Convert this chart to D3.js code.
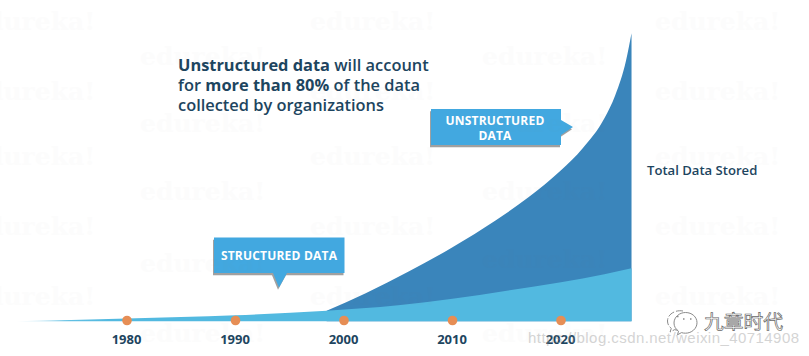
<!DOCTYPE html>
<html><head><meta charset="utf-8">
<script src="https://cdn.jsdelivr.net/npm/d3@7/dist/d3.min.js"></script>
<style>html,body{margin:0;padding:0;background:#fff}svg{display:block}text{font-family:"Open Sans",sans-serif}</style>
</head><body><div id="c"></div>
<script>
const tickYears = [1980, 1990, 2000, 2010, 2020];
const totalYears = [1998.4, 2002, 2006, 2010, 2014, 2017, 2020, 2022, 2024, 2025, 2026, 2026.5];
const totalValues = [10.5, 28, 50, 74, 101, 124, 151, 173, 203, 226, 261, 288];
const structuredYears = [1969.7, 1980, 1990, 1998.4, 2005, 2010, 2015, 2020, 2024, 2026.5];
const structuredValues = [0, 2.8, 6, 10.5, 16, 22.5, 30.5, 39, 47, 53];
const headlineLines = [
  [["Unstructured data", 700], [" will account", 600]],
  [["for ", 600], ["more than 80%", 700], [" of the data", 600]],
  [["collected by organizations", 600]]
];
const watermarkColumns = [[-30, [20, 90, 155, 225, 295]], [140, [55, 122, 190, 262, 332]], [310, [20, 90, 155, 225, 295]], [482, [55, 122, 190, 258, 332]], [655, [20, 90, 155, 225, 295]]];

const W = 809, H = 356;
const svg = d3.select("#c").append("svg").attr("width", W).attr("height", H);
const x = d3.scaleLinear().domain([1980, 2020]).range([127, 561]);
const y = d3.scaleLinear().domain([0, 288]).range([321.3, 33.3]);
const area = d3.area().x(d => x(d[0])).y0(y(0)).y1(d => y(d[1])).curve(d3.curveMonotoneX);

const grad = svg.append("defs").append("linearGradient").attr("id", "fade");
grad.append("stop").attr("offset", "0").attr("stop-color", "#52b9e0").attr("stop-opacity", 0.05);
grad.append("stop").attr("offset", "0.08").attr("stop-color", "#52b9e0").attr("stop-opacity", 0.9);
grad.append("stop").attr("offset", "0.15").attr("stop-color", "#52b9e0");
grad.append("stop").attr("offset", "1").attr("stop-color", "#52b9e0");

svg.append("path").attr("d", area(d3.zip(totalYears, totalValues))).attr("fill", "#3a85bb");
svg.append("path").attr("d", area(d3.zip(structuredYears, structuredValues))).attr("fill", "url(#fade)");

// ticks
svg.selectAll("circle.tick").data(tickYears).join("circle").attr("class", "tick")
  .attr("cx", d => x(d)).attr("cy", 320.5).attr("r", 4.8).attr("fill", "#e68e55");
svg.selectAll("text.year").data(tickYears).join("text").attr("class", "year")
  .attr("x", d => x(d) - 0.5).attr("y", 344).attr("text-anchor", "middle")
  .attr("font-size", 13).attr("font-weight", 700).attr("fill", "#1d4560").text(d => d);

// headline
headlineLines.forEach((line, i) => {
  const t = svg.append("text").attr("x", 178).attr("y", 71 + i * 19.8).attr("fill", "#1d4560").attr("font-size", 16.4);
  line.forEach(s => t.append("tspan").attr("font-weight", s[1]).style("white-space", "pre").text(s[0]));
});

// callouts
function callout(path, lines, cx, ys) {
  svg.append("path").attr("d", path).attr("fill", "#8f8f8f").attr("transform", "translate(-1,2.2)").attr("opacity", 0.85);
  svg.append("path").attr("d", path).attr("fill", "#42a8e0");
  lines.forEach((l, i) => svg.append("text").attr("x", cx).attr("y", ys[i]).attr("text-anchor", "middle")
    .attr("font-size", 12).attr("font-weight", 700).attr("fill", "#fff").style("letter-spacing", "0.2px").text(l));
}
callout("M214,237.5H344.5V273H287L279,287.5L273,273H214Z", ["STRUCTURED DATA"], 279, [259.5]);
callout("M431,109H561V120L573,127L561,135V145H431Z", ["UNSTRUCTURED", "DATA"], 495, [125, 140]);

svg.append("text").attr("x", 647).attr("y", 174.5).attr("font-size", 13.1).attr("font-weight", 600).attr("fill", "#1d4560").text("Total Data Stored");

// watermarks
watermarkColumns.forEach(c => c[1].forEach(yy => {
  svg.append("text").attr("x", c[0]).attr("y", yy + 10)
    .style("font-family", "'DejaVu Serif',serif").attr("font-size", 25).attr("font-weight", 700)
    .attr("fill", "#808080").attr("opacity", 0.018).text("edureka!");
}));

// wechat mark
const g = svg.append("g").attr("fill", "none").attr("stroke", "#8a8a8a").attr("stroke-width", 1);
g.append("path").attr("d", "M683,311c-8,-1.5-15.5,3.5-15.5,10c0,3,1.4,5.5,3.8,7.4l-1.2,3.6l4.6-2.4c1,.4,2,.6,3,.7").attr("stroke-dasharray", "7 2");
g.append("path").attr("d", "M674,323c0-6,5.5-10.5,11.5-10.5c6.5,0,11.5,4.5,11.5,10.2c0,6-5.5,10.5-11.5,10.5c-1.4,0-2.8-.2-4-.6l-4,2.2l1-3.6c-2.8-2-4.5-5-4.5-8.2Z");
g.selectAll(".eye").data(["M677,316.5h1.5", "M683,319h1.5", "M690,319h1.5"]).join("path").attr("stroke-width", 1.6).attr("d", d => d);

svg.append("text").attr("x", 704).attr("y", 329).attr("font-size", 19.8).style("font-family", "'Noto Sans CJK SC'")
  .attr("fill", "#fff").attr("stroke", "#666").attr("stroke-width", 0.7).text("九章时代");
svg.append("text").attr("x", 528).attr("y", 343).style("font-family", "'Liberation Sans'").attr("font-size", 15)
  .attr("fill", "#9a9a9a").attr("opacity", 0.42).attr("textLength", 271).text("https://blog.csdn.net/weixin_40714908");
</script></body></html>
